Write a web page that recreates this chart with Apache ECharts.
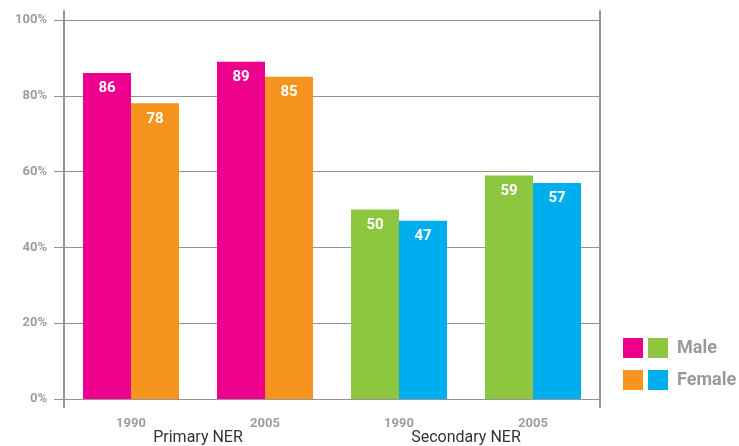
<!DOCTYPE html>
<html><head><meta charset="utf-8">
<script src="https://cdn.jsdelivr.net/npm/echarts@6/dist/echarts.min.js"></script>
<style>html,body{margin:0;padding:0;background:#fff}#c{width:739px;height:446px}</style>
</head><body><div id="c"></div>
<script>
const years = ['1990', '2005', '1990', '2005'];
const groups = ['Primary NER', 'Secondary NER'];
const primaryMale = [86, 89, '-', '-'];
const primaryFemale = [78, 85, '-', '-'];
const secondaryMale = ['-', '-', 50, 59];
const secondaryFemale = ['-', '-', 47, 57];
const yTicks = [0, 20, 40, 60, 80, 100];

const GRAY = '#939598';
const LABEL = '#9C9EA1';
const FONT = 'Roboto, sans-serif';

const chart = echarts.init(document.getElementById('c'), null, {renderer: 'canvas'});
const lbl = {show: true, position: 'insideTop', distance: 8, color: '#fff', fontWeight: 'bold', fontSize: 15, fontFamily: FONT};
function bar(name, data, color, stack) {
  return {name, type: 'bar', data, stack, barWidth: 48, barGap: '0%', itemStyle: {color}, label: lbl, emphasis: {disabled: true}, animation: false};
}
chart.setOption({
  animation: false,
  grid: {left: 64, right: 139, top: 11, bottom: 39, containLabel: false},
  xAxis: [
    {type: 'category', data: years, axisLine: {onZero: true, lineStyle: {color: GRAY, width: 1}}, axisTick: {show: false},
     axisLabel: {color: LABEL, fontWeight: 'bold', fontSize: 13, fontFamily: FONT, margin: 10}},
    {type: 'category', data: groups, position: 'bottom', axisLine: {show: false, onZero: false}, axisTick: {show: false},
     axisLabel: {color: '#333', fontSize: 16, fontFamily: FONT, margin: 23}}
  ],
  yAxis: [
    {type: 'value', min: -2.11, max: 102.37, position: 'left',
     axisLine: {show: true, lineStyle: {color: GRAY, width: 2}},
     axisTick: {show: true, length: 10, customValues: yTicks, lineStyle: {color: GRAY, width: 1}},
     axisLabel: {customValues: yTicks, formatter: '{value}%', color: LABEL, fontWeight: 'bold', fontSize: 13, fontFamily: FONT, margin: 17},
     splitLine: {show: true, lineStyle: {color: GRAY, width: 1}}},
    {type: 'value', min: -2.11, max: 102.37, position: 'right',
     axisLine: {show: true, lineStyle: {color: GRAY, width: 2}},
     axisTick: {show: false}, axisLabel: {show: false}, splitLine: {show: false}}
  ],
  legend: [
    {data: ['Primary Male', 'Primary Female'], orient: 'vertical', left: 618, top: 333, padding: 5, itemWidth: 20, itemHeight: 20, itemGap: 12,
     icon: 'rect', selectedMode: false, formatter: () => '', textStyle: {fontSize: 1}},
    {data: ['Secondary Male', 'Secondary Female'], orient: 'vertical', left: 643, top: 333, padding: 5, itemWidth: 20, itemHeight: 20, itemGap: 12,
     icon: 'rect', selectedMode: false, formatter: n => n.indexOf('Female') >= 0 ? 'Female' : 'Male',
     textStyle: {color: '#999A9E', fontWeight: 'bold', fontSize: 18, fontFamily: FONT, padding: [0, 0, 0, 4]}}
  ],
  series: [
    bar('Primary Male', primaryMale, '#EC008C', 'male'),
    bar('Primary Female', primaryFemale, '#F7941D', 'female'),
    bar('Secondary Male', secondaryMale, '#8DC63F', 'male'),
    bar('Secondary Female', secondaryFemale, '#00AEEF', 'female')
  ]
});
</script></body></html>
